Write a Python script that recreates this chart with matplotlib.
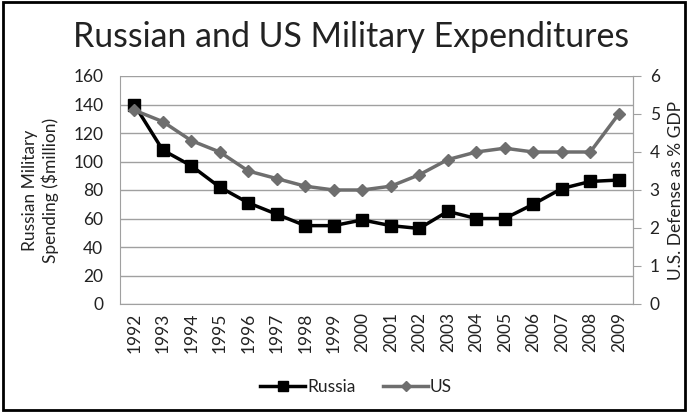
import matplotlib.pyplot as plt
from matplotlib.patches import Rectangle

plt.rcParams['font.family'] = ['Lato', 'DejaVu Sans']

years = [str(y) for y in range(1992, 2010)]
russia = [140, 108, 97, 82, 71, 63, 55, 55, 59, 55, 53, 65, 60, 60, 70, 81, 86, 87]
us = [5.1, 4.8, 4.3, 4.0, 3.5, 3.3, 3.1, 3.0, 3.0, 3.1, 3.4, 3.8, 4.0, 4.1, 4.0, 4.0, 4.0, 5.0]

grid_col = '#a0a0a0'
us_col = '#6e6e6e'
txt_col = '#222222'

fig = plt.figure(figsize=(6.88, 4.12), dpi=100)
ax = fig.add_axes([120 / 688, 1 - 304 / 412, 513 / 688, 228 / 412])
ax2 = ax.twinx()

x = range(len(years))
ax.plot(x, russia, color='black', lw=2.5, marker='s', ms=9, zorder=3, label='Russia')
ax2.plot(x, us, color=us_col, lw=2.5, marker='D', ms=6.5, zorder=3, label='US')

ax.set_ylim(0, 160)
ax.set_yticks(range(0, 161, 20))
ax2.set_ylim(0, 6)
ax2.set_yticks(range(0, 7))
ax.set_xlim(-0.5, len(years) - 0.5)
ax.set_xticks(list(x))
ax.set_xticklabels(years, rotation=90)

ax.yaxis.grid(True, color=grid_col, lw=1)
ax.set_axisbelow(True)
for s in ['left', 'right', 'bottom']:
    ax.spines[s].set_color(grid_col)
ax.spines['top'].set_visible(False)
for s in ['left', 'bottom', 'top']:
    ax2.spines[s].set_visible(False)
ax2.spines['right'].set_color(grid_col)

ax.tick_params(axis='y', length=0, labelsize=12.5, pad=12, labelcolor=txt_col)
ax.tick_params(axis='x', length=0, labelsize=12.5, pad=6, labelcolor=txt_col)
ax2.tick_params(axis='y', length=6, color=grid_col, labelsize=12.5, pad=6, labelcolor=txt_col)

ax.set_ylabel('Russian Military\nSpending ($million)', fontsize=12.5, labelpad=10,
              color=txt_col, linespacing=1.25)
ax2.set_ylabel('U.S. Defense as % GDP', fontsize=12.5, labelpad=6, color=txt_col)

fig.suptitle('Russian and US Military Expenditures', fontsize=24.4, y=0.95,
             x=351 / 688, color=txt_col)

h1, l1 = ax.get_legend_handles_labels()
h2, l2 = ax2.get_legend_handles_labels()
leg = fig.legend(h1 + h2, l1 + l2, loc='center', bbox_to_anchor=(356 / 688, 1 - 387 / 412),
                 ncol=2, frameon=False, fontsize=12.5, handlelength=2.6,
                 columnspacing=1.6, handletextpad=0.1, markerscale=0.8)
for t in leg.get_texts():
    t.set_color(txt_col)

fig.patches.append(Rectangle((0.004, 0.004), 0.992, 0.992, transform=fig.transFigure,
                             fill=False, edgecolor='black', lw=2))

fig.savefig('out.png', dpi=100)
